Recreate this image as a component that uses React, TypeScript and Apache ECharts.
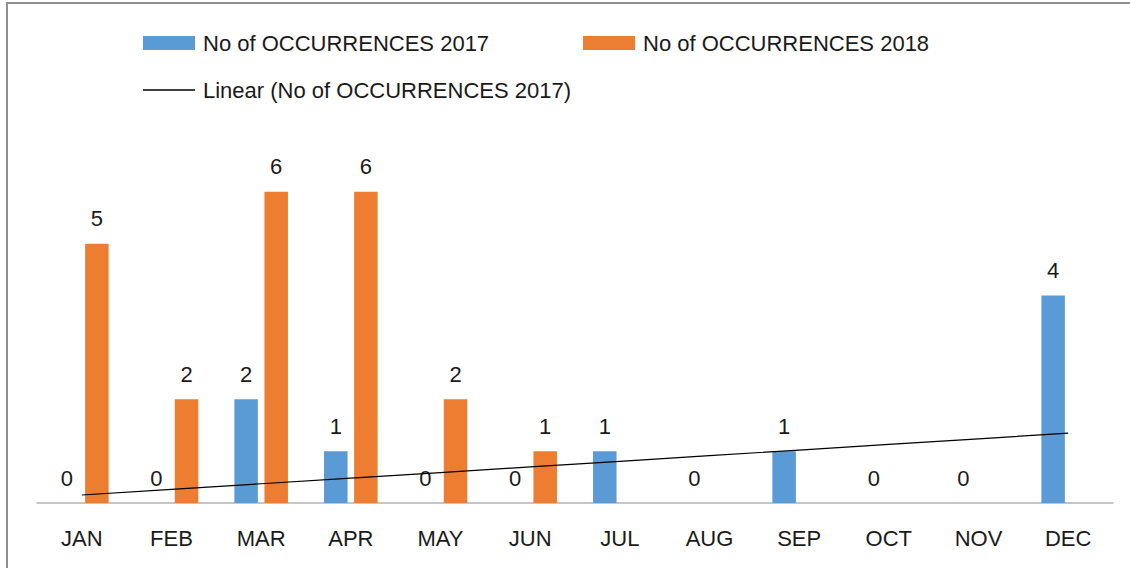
import React, { useEffect, useRef } from "react";
import * as echarts from "echarts";

const months = ["JAN", "FEB", "MAR", "APR", "MAY", "JUN", "JUL", "AUG", "SEP", "OCT", "NOV", "DEC"];
const occ2017 = [0, 0, 2, 1, 0, 0, 1, 0, 1, 0, 0, 4];
const occ2018: (number | null)[] = [5, 2, 6, 6, 2, 1, null, null, null, null, null, null];

const NAME17 = "No of OCCURRENCES 2017";
const NAME18 = "No of OCCURRENCES 2018";
const NAMELIN = "Linear (No of OCCURRENCES 2017)";

// Least-squares linear trendline over 2017 values (as Excel's "Linear" trendline)
function linearTrend(ys: number[]): number[] {
  const n = ys.length;
  const xs = ys.map((_, i) => i + 1);
  const mx = xs.reduce((a, b) => a + b, 0) / n;
  const my = ys.reduce((a, b) => a + b, 0) / n;
  let sxy = 0;
  let sxx = 0;
  for (let i = 0; i < n; i++) {
    sxy += (xs[i] - mx) * (ys[i] - my);
    sxx += (xs[i] - mx) * (xs[i] - mx);
  }
  const slope = sxy / sxx;
  const icpt = my - slope * mx;
  return xs.map((x) => +(icpt + slope * x).toFixed(4));
}

const FONT = "Liberation Sans";
const TEXT = "#1a1a1a";

export default function App() {
  const ref = useRef<HTMLDivElement>(null);
  useEffect(() => {
    document.body.style.margin = "0";
    if (!ref.current) return;
    const chart = echarts.init(ref.current, null, { renderer: "svg" });
    const legendText = { color: TEXT, fontFamily: FONT, fontSize: 22, padding: [0, 0, 0, 3] };
    chart.setOption({
      animation: false,
      backgroundColor: "#ffffff",
      textStyle: { fontFamily: FONT },
      graphic: [
        {
          type: "rect",
          shape: { x: 7, y: 3, width: 1140, height: 580 },
          style: { fill: "none", stroke: "#909090", lineWidth: 2 },
          silent: true,
        },
      ],
      legend: [
        {
          data: [NAME17],
          left: 143,
          top: 32,
          padding: 0,
          itemWidth: 52,
          itemHeight: 14,
          icon: "rect",
          textStyle: legendText,
        },
        {
          data: [NAME18],
          left: 583,
          top: 32,
          padding: 0,
          itemWidth: 52,
          itemHeight: 14,
          icon: "rect",
          textStyle: legendText,
        },
        {
          data: [NAMELIN],
          left: 143,
          top: 79,
          padding: 0,
          itemWidth: 52,
          itemHeight: 1.3,
          icon: "rect",
          textStyle: legendText,
        },
      ],
      grid: { left: 37, right: 17, top: 88, bottom: 65, containLabel: false },
      xAxis: {
        type: "category",
        data: months,
        axisLine: { lineStyle: { color: "#b3b3b3", width: 1.5 } },
        axisTick: { show: false },
        axisLabel: { color: TEXT, fontFamily: FONT, fontSize: 22, margin: 24 },
      },
      yAxis: {
        type: "value",
        min: 0,
        max: 8,
        interval: 1,
        show: false,
        splitLine: { show: false },
      },
      series: [
        {
          name: NAME17,
          type: "bar",
          data: occ2017,
          barWidth: 23.5,
          barGap: "28%",
          itemStyle: { color: "#5B9BD5" },
          label: { show: true, position: "top", distance: 14, color: TEXT, fontFamily: FONT, fontSize: 22 },
        },
        {
          name: NAME18,
          type: "bar",
          data: occ2018,
          barWidth: 23.5,
          barGap: "28%",
          itemStyle: { color: "#ED7D31" },
          label: { show: true, position: "top", distance: 14, color: TEXT, fontFamily: FONT, fontSize: 22 },
        },
        {
          name: NAMELIN,
          type: "line",
          data: linearTrend(occ2017),
          symbol: "none",
          z: 5,
          lineStyle: { color: "#000000", width: 1.2 },
          itemStyle: { color: "#000000" },
        },
      ],
    });
    return () => chart.dispose();
  }, []);
  return <div ref={ref} style={{ width: 1130, height: 568 }} />;
}
